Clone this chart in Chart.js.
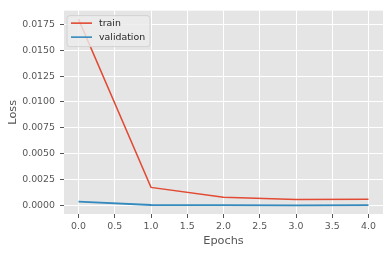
<!DOCTYPE html>
<html>
<head>
<meta charset="utf-8">
<script src="https://cdn.jsdelivr.net/npm/chart.js@4.4.1/dist/chart.umd.min.js"></script>
<style>
  html, body { margin: 0; padding: 0; background: #ffffff; }
  #wrap { width: 390px; height: 254px; }
</style>
</head>
<body>
<div id="wrap"><canvas id="chart-loss" width="390" height="254"></canvas></div>
<script>
var epochs = [0, 1, 2, 3, 4];
var trainLoss = [0.0180, 0.00175, 0.00080, 0.00058, 0.00060];
var valLoss = [0.00038, 0.00005, 0.00003, 0.00002, 0.00003];
var yTicks = [0, 0.0025, 0.005, 0.0075, 0.01, 0.0125, 0.015, 0.0175];
var xTicks = [0, 0.5, 1, 1.5, 2, 2.5, 3, 3.5, 4];

var red = '#E24A33';
var blue = '#348ABD';
var tickGrey = '#555555';
var font = 'DejaVu Sans';

function points(ys) {
  return epochs.map(function(x, i) { return { x: x, y: ys[i] }; });
}

// ggplot-style legend box drawn inside the plot, top left
var innerLegend = {
  id: 'innerLegend',
  afterDatasetsDraw: function(chart) {
    var ctx = chart.ctx, a = chart.chartArea;
    var x = a.left + 3, y = a.top + 5, w = 83, h = 31;
    ctx.save();
    ctx.beginPath();
    ctx.roundRect(x, y, w, h, 3);
    ctx.fillStyle = 'rgba(236,236,236,0.82)';
    ctx.fill();
    ctx.strokeStyle = '#d2d2d2';
    ctx.lineWidth = 1;
    ctx.stroke();
    ctx.font = '9.4px "' + font + '"';
    ctx.textBaseline = 'middle';
    chart.data.datasets.forEach(function(ds, i) {
      var ly = y + 7.5 + i * 14;
      ctx.strokeStyle = ds.borderColor;
      ctx.lineWidth = 1.6;
      ctx.beginPath();
      ctx.moveTo(x + 4, ly);
      ctx.lineTo(x + 25, ly);
      ctx.stroke();
      ctx.fillStyle = '#262626';
      ctx.fillText(ds.label, x + 32, ly);
    });
    ctx.restore();
  }
};

// grey plot background
var plotBg = {
  id: 'plotBg',
  beforeDraw: function(chart) {
    var ctx = chart.ctx, a = chart.chartArea;
    ctx.save();
    ctx.fillStyle = '#E5E5E5';
    ctx.fillRect(a.left, a.top, a.right - a.left, a.bottom - a.top);
    ctx.restore();
  }
};

new Chart(document.getElementById('chart-loss').getContext('2d'), {
  type: 'line',
  data: {
    datasets: [
      { label: 'train', data: points(trainLoss), borderColor: red, borderWidth: 1.5, pointRadius: 0, fill: false, tension: 0 },
      { label: 'validation', data: points(valLoss), borderColor: blue, borderWidth: 1.8, pointRadius: 0, fill: false, tension: 0 }
    ]
  },
  options: {
    responsive: false, animation: false,
    layout: { padding: { left: 0, right: 7, top: 6, bottom: 0 } },
    plugins: { legend: { display: false }, tooltip: { enabled: false } },
    scales: {
      x: {
        type: 'linear', min: -0.2, max: 4.2,
        afterFit: function(s) { s.height = 40; },
        afterBuildTicks: function(s) { s.ticks = xTicks.map(function(v) { return { value: v }; }); },
        ticks: { color: tickGrey, padding: 3, font: { family: font, size: 9.4 }, maxRotation: 0,
          callback: function(v) { return v.toFixed(1); } },
        grid: { color: '#ffffff', lineWidth: 1, tickColor: tickGrey, tickLength: 4 },
        border: { display: false },
        title: { display: true, text: 'Epochs', color: tickGrey, font: { family: font, size: 11.3 }, padding: { top: 0, bottom: 6.5 } }
      },
      y: {
        min: -0.00082, max: 0.01882,
        afterFit: function(s) { s.width = 64; },
        afterBuildTicks: function(s) { s.ticks = yTicks.map(function(v) { return { value: v }; }); },
        ticks: { color: tickGrey, padding: 5, font: { family: font, size: 9.4 },
          callback: function(v) { return v.toFixed(4); } },
        grid: { color: '#ffffff', lineWidth: 1, tickColor: tickGrey, tickLength: 4 },
        border: { display: false },
        title: { display: true, text: 'Loss', color: tickGrey, font: { family: font, size: 11.3 }, padding: { top: 6.5, bottom: 0 } }
      }
    }
  },
  plugins: [plotBg, innerLegend]
});
</script>
</body>
</html>
